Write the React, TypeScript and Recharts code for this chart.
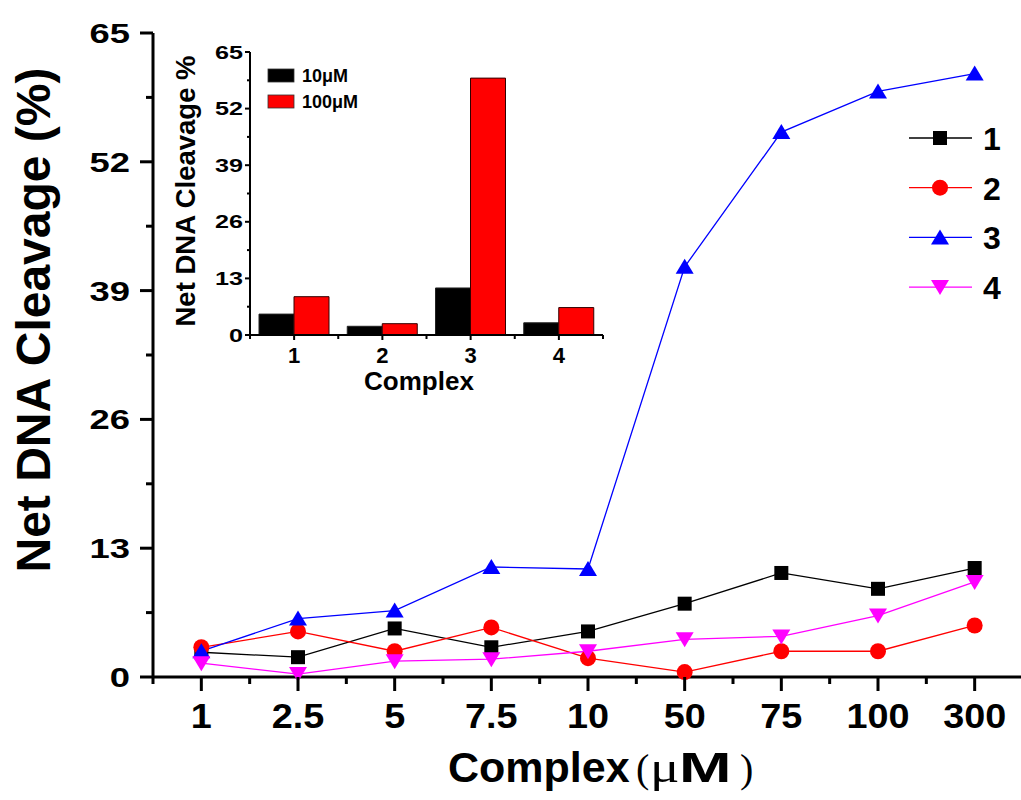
import React from "react";
import { LineChart, Line, XAxis, YAxis, Legend, BarChart, Bar } from "recharts";

const FONT = "'Liberation Sans', Arial, Helvetica, sans-serif";
const SERIF = "'Liberation Serif', 'Times New Roman', serif";

// main chart: concentration (µM) on x, cleavage % on y
const concentrations = ["1", "2.5", "5", "7.5", "10", "50", "75", "100", "300"];
const complex1 = [2.5, 2.0, 4.9, 3.0, 4.6, 7.4, 10.5, 8.9, 11.0];
const complex2 = [3.0, 4.6, 2.6, 5.0, 1.9, 0.5, 2.6, 2.6, 5.2];
const complex3 = [2.6, 5.9, 6.7, 11.1, 10.9, 41.4, 55.0, 59.1, 60.9];
const complex4 = [1.4, 0.3, 1.6, 1.8, 2.6, 3.8, 4.1, 6.2, 9.6];
const yTickValues = [0, 13, 26, 39, 52, 65];

// inset: net cleavage per complex at 10 and 100 µM
const insetComplexes = ["1", "2", "3", "4"];
const inset10 = [4.8, 2.0, 10.8, 2.8];
const inset100 = [8.8, 2.6, 59.0, 6.3];

type Shape = "square" | "circle" | "up" | "down";

const SERIES: { key: string; name: string; color: string; shape: Shape; values: number[] }[] = [
  { key: "s1", name: "1", color: "#000000", shape: "square", values: complex1 },
  { key: "s2", name: "2", color: "#ff0000", shape: "circle", values: complex2 },
  { key: "s3", name: "3", color: "#0000ff", shape: "up", values: complex3 },
  { key: "s4", name: "4", color: "#ff00ff", shape: "down", values: complex4 },
];

const mainRows = concentrations.map((c, i) => {
  const row: Record<string, number | string> = { idx: i, label: c };
  SERIES.forEach((s) => (row[s.key] = s.values[i]));
  return row;
});

// majors at each category, minors half way between
const mainXTicks = concentrations.flatMap((_, i) => (i === 0 ? [-0.5, 0, 0.5] : [i, i + 0.5]));
const mainYTicks = yTickValues.flatMap((v, i) => (i === 0 ? [v] : [v - 6.5, v]));

const insetRows = insetComplexes.map((c, i) => ({ name: c, c10: inset10[i], c100: inset100[i] }));

function Marker({ cx, cy, shape, color }: { cx: number; cy: number; shape: Shape; color: string }) {
  if (cx == null || cy == null) return null;
  if (shape === "square") return <rect x={cx - 7} y={cy - 7} width={14} height={14} fill={color} />;
  if (shape === "circle") return <circle cx={cx} cy={cy} r={8} fill={color} />;
  if (shape === "up")
    return <polygon points={`${cx},${cy - 8} ${cx - 9},${cy + 7} ${cx + 9},${cy + 7}`} fill={color} />;
  return <polygon points={`${cx},${cy + 8} ${cx - 9},${cy - 7} ${cx + 9},${cy - 7}`} fill={color} />;
}

function MainXTick(props: any) {
  const { x, y, payload } = props;
  const v = payload.value;
  const major = Number.isInteger(v);
  return (
    <g>
      <line x1={x} x2={x} y1={y} y2={y + (major ? 14 : 7)} stroke="#000" strokeWidth={3} />
      {major && (
        <text
          transform={`translate(${x},${y + 51}) scale(1.08,1)`}
          textAnchor="middle"
          fontFamily={FONT}
          fontWeight="bold"
          fontSize={35}
          fill="#000"
        >
          {concentrations[v]}
        </text>
      )}
    </g>
  );
}

function MainYTick(props: any) {
  const { x, y, payload } = props;
  const v = payload.value;
  const major = v % 13 === 0;
  return (
    <g>
      <line x1={x - (major ? 13 : 7)} x2={x} y1={y} y2={y} stroke="#000" strokeWidth={3} />
      {major && (
        <text
          transform={`translate(${x - 23},${y + 10}) scale(1.3,1)`}
          textAnchor="end"
          fontFamily={FONT}
          fontWeight="bold"
          fontSize={28}
          fill="#000"
        >
          {v}
        </text>
      )}
    </g>
  );
}

function MainXTitle() {
  return (
    <g fill="#000">
      <text x={448} y={782} fontFamily={FONT} fontWeight="bold" fontSize={43}>
        Complex
      </text>
      <text x={636} y={782} fontFamily={SERIF} fontSize={40}>
        (
      </text>
      <text transform="translate(650,782) scale(1.25,1)" fontFamily={SERIF} fontSize={44}>
        μ
      </text>
      <text transform="translate(679,782) scale(1.5,1)" fontFamily={FONT} fontWeight="bold" fontSize={42}>
        M
      </text>
      <text x={740} y={782} fontFamily={SERIF} fontSize={40}>
        )
      </text>
    </g>
  );
}

function MainYTitle() {
  return (
    <text
      transform="rotate(-90, 50, 320)"
      x={50}
      y={320}
      textAnchor="middle"
      fontFamily={FONT}
      fontWeight="bold"
      fontSize={48}
      fill="#000"
    >
      Net DNA Cleavage (%)
    </text>
  );
}

function MainLegend() {
  return (
    <svg width={120} height={200}>
      {SERIES.map((s, i) => {
        const cy = 28 + i * 49.7;
        return (
          <g key={s.key}>
            <line x1={9} x2={72} y1={cy} y2={cy} stroke={s.color} strokeWidth={1.3} />
            <Marker cx={40} cy={cy} shape={s.shape} color={s.color} />
            <text x={83} y={cy + 12} fontFamily={FONT} fontWeight="bold" fontSize={32} fill="#000">
              {s.name}
            </text>
          </g>
        );
      })}
    </svg>
  );
}

function InsetXTick(props: any) {
  const { x, y, payload } = props;
  const off = payload.offset ?? 44;
  const last = payload.value === insetComplexes[insetComplexes.length - 1];
  return (
    <g>
      <line x1={x} x2={x} y1={y} y2={y + 5} stroke="#000" strokeWidth={2} />
      <line x1={x - off} x2={x - off} y1={y} y2={y + 4} stroke="#000" strokeWidth={2} />
      {last && <line x1={x + off} x2={x + off} y1={y} y2={y + 4} stroke="#000" strokeWidth={2} />}
      <text x={x} y={y + 28} textAnchor="middle" fontFamily={FONT} fontWeight="bold" fontSize={22} fill="#000">
        {payload.value}
      </text>
    </g>
  );
}

function InsetYTick(props: any) {
  const { x, y, payload } = props;
  const v = payload.value;
  const major = v % 13 === 0;
  return (
    <g>
      <line x1={x - (major ? 5 : 3)} x2={x} y1={y} y2={y} stroke="#000" strokeWidth={2} />
      {major && (
        <text
          transform={`translate(${x - 7},${y + 6.5}) scale(1.4,1)`}
          textAnchor="end"
          fontFamily={FONT}
          fontWeight="bold"
          fontSize={18}
          fill="#000"
        >
          {v}
        </text>
      )}
    </g>
  );
}

function InsetXTitle() {
  return (
    <text x={259} y={360} textAnchor="middle" fontFamily={FONT} fontWeight="bold" fontSize={26} fill="#000">
      Complex
    </text>
  );
}

function InsetYTitle() {
  return (
    <text
      transform="rotate(-90, 35, 161)"
      x={35}
      y={161}
      textAnchor="middle"
      fontFamily={FONT}
      fontWeight="bold"
      fontSize={27.5}
      fill="#000"
    >
      Net DNA Cleavage %
    </text>
  );
}

function InsetLegend() {
  const items = [
    { label: "10μM", color: "#000000" },
    { label: "100μM", color: "#ff0000" },
  ];
  return (
    <svg width={140} height={60}>
      {items.map((it, i) => (
        <g key={it.label}>
          <rect x={8} y={9 + i * 26} width={26} height={13} fill={it.color} stroke="#333" strokeWidth={0.8} />
          <text x={42} y={22 + i * 26} fontFamily={FONT} fontWeight="bold" fontSize={18} fill="#000">
            {it.label}
          </text>
        </g>
      ))}
    </svg>
  );
}

export default function App() {
  return (
    <div
      style={{
        position: "absolute",
        left: 0,
        top: 0,
        width: 1021,
        height: 800,
        overflow: "hidden",
        background: "#fff",
      }}
    >
      <LineChart width={1040} height={800} data={mainRows} margin={{ top: 33, right: 17, bottom: 0, left: 0 }}>
        <XAxis
          xAxisId="b"
          dataKey="idx"
          type="number"
          domain={[-0.5, 8.5]}
          ticks={mainXTicks}
          interval={0}
          height={123}
          axisLine={{ stroke: "#000", strokeWidth: 3 }}
          tickLine={false}
          tickSize={0}
          tickMargin={0}
          tick={<MainXTick />}
          label={<MainXTitle />}
        />
        <XAxis
          xAxisId="t"
          orientation="top"
          type="number"
          domain={[-0.5, 8.5]}
          height={0}
          axisLine={{ stroke: "#000", strokeWidth: 3 }}
          tick={false}
          tickLine={false}
        />
        <YAxis
          type="number"
          domain={[0, 65]}
          ticks={mainYTicks}
          interval={0}
          width={153}
          axisLine={{ stroke: "#000", strokeWidth: 3 }}
          tickLine={false}
          tickSize={0}
          tickMargin={0}
          tick={<MainYTick />}
          label={<MainYTitle />}
        />
        {SERIES.map((s) => (
          <Line
            key={s.key}
            xAxisId="b"
            dataKey={s.key}
            name={s.name}
            stroke={s.color}
            strokeWidth={1.3}
            isAnimationActive={false}
            activeDot={false}
            dot={(p: any) => <Marker key={`${s.key}-${p.index}`} cx={p.cx} cy={p.cy} shape={s.shape} color={s.color} />}
          />
        ))}
        <Legend
          layout="vertical"
          align="center"
          verticalAlign="middle"
          content={<MainLegend />}
          wrapperStyle={{ position: "absolute", left: 900, top: 110, width: 120, height: 200 }}
        />
      </LineChart>

      <div style={{ position: "absolute", left: 160, top: 30 }}>
        <BarChart
          width={460}
          height={370}
          data={insetRows}
          margin={{ top: 22, right: 17, bottom: 0, left: 0 }}
          barGap={0}
        >
          <XAxis
            xAxisId="b"
            dataKey="name"
            type="category"
            height={65}
            interval={0}
            axisLine={{ stroke: "#000", strokeWidth: 2 }}
            tickLine={false}
            tickSize={0}
            tickMargin={0}
            tick={<InsetXTick />}
            label={<InsetXTitle />}
          />
          <XAxis
            xAxisId="t"
            dataKey="name"
            type="category"
            orientation="top"
            height={0}
            axisLine={{ stroke: "#000", strokeWidth: 2 }}
            tick={false}
            tickLine={false}
          />
          <YAxis
            yAxisId="l"
            type="number"
            domain={[0, 65]}
            ticks={mainYTicks}
            interval={0}
            width={90}
            axisLine={{ stroke: "#000", strokeWidth: 2 }}
            tickLine={false}
            tickSize={0}
            tickMargin={0}
            tick={<InsetYTick />}
            label={<InsetYTitle />}
          />
          <YAxis
            yAxisId="r"
            orientation="right"
            type="number"
            domain={[0, 65]}
            width={0}
            axisLine={{ stroke: "#000", strokeWidth: 2 }}
            tick={false}
            tickLine={false}
          />
          <Bar xAxisId="b" yAxisId="l" dataKey="c10" name="10μM" fill="#000000" stroke="#222" strokeWidth={1} barSize={35} isAnimationActive={false} />
          <Bar xAxisId="b" yAxisId="l" dataKey="c100" name="100μM" fill="#ff0000" stroke="#330000" strokeWidth={1} barSize={35} isAnimationActive={false} />
          <Legend
            layout="vertical"
            align="center"
            verticalAlign="middle"
            content={<InsetLegend />}
            wrapperStyle={{ position: "absolute", left: 100, top: 30, width: 140, height: 60 }}
          />
        </BarChart>
      </div>
    </div>
  );
}
